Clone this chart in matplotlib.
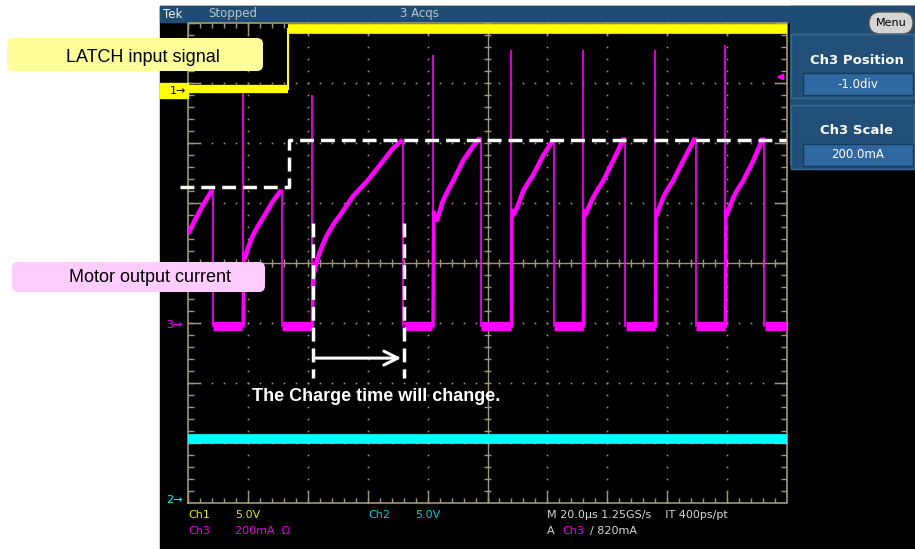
import matplotlib.pyplot as plt
import numpy as np
from matplotlib.patches import FancyBboxPatch, Rectangle

plt.rcParams['font.family'] = ['Liberation Sans', 'DejaVu Sans']

# scope settings
us_per_div = 20.0
ch1_scale, ch1_pos = 5.0, 2.9      # V/div, div
ch2_scale, ch2_pos = 5.0, -3.93    # V/div, div
ch3_scale, ch3_pos = 200.0, -1.0   # mA/div, div
trig_level = 820                   # mA

# Ch1 : LATCH input (V)
ch1_edge = 33.4
ch1_low, ch1_high = 0.0, 5.0
# Ch2 (V)
ch2_level = 5.0

# Ch3 : motor output current (mA), time in us
ch3_low = -10
low_start = [8.3, 31.4, 72.1, 97.8, 122.2, 146.2, 169.5, 192.6]
low_end = [18.1, 41.4, 81.5, 107.8, 131.9, 155.8, 179.3, 200.0]
spike_t = [18.3, 41.5, 81.8, 107.8, 131.9, 156.0, 179.3]
spike_top = [767, 760, 893, 910, 910, 910, 927]
rise_t = [
    [0.0, 2.3, 5.0, 8.0],
    [18.6, 19.0, 20.2, 21.7, 23.3, 25.0, 26.7, 28.4, 31.1],
    [41.7, 41.9, 43.1, 44.7, 46.4, 48.6, 50.8, 55.1, 59.8, 64.1, 68.5, 71.5],
    [82.0, 82.4, 83.1, 84.0, 85.1, 86.8, 88.5, 91.8, 95.2, 97.5],
    [108.2, 108.5, 108.9, 110.2, 111.9, 113.5, 115.2, 118.5, 121.9],
    [132.2, 132.6, 133.2, 134.1, 135.2, 136.9, 138.6, 141.9, 145.6],
    [156.3, 156.6, 156.9, 157.7, 158.6, 160.2, 161.9, 165.3, 169.3],
    [179.6, 179.9, 180.3, 181.1, 182.0, 183.6, 185.3, 188.7, 192.0],
]
rise_i = [
    [297, 343, 393, 443],
    [230, 217, 255, 293, 322, 350, 378, 407, 443],
    [120, 160, 210, 255, 293, 330, 360, 423, 473, 527, 583, 610],
    [370, 355, 343, 370, 407, 442, 473, 540, 590, 617],
    [375, 360, 365, 393, 440, 467, 493, 557, 610],
    [375, 360, 372, 393, 417, 447, 473, 540, 617],
    [375, 360, 372, 393, 417, 447, 473, 540, 617],
    [375, 360, 372, 393, 417, 447, 473, 540, 617],
]

# annotation guides (us, mA)
guide_t = [-2.7, 33.6, 33.6, 199.5]
guide_i = [453, 453, 610, 610]
charge_t = [41.8, 72.1]
charge_i = [333, -183]
arrow_i = -117

YEL = '#ffff00'
CYN = '#00ffff'
MAG = '#ff00ff'
GRAT = '#a09878'
BLUE = '#1f4c72'


def ch3(i):
    return ch3_pos + np.asarray(i, dtype=float) / ch3_scale


fig = plt.figure(figsize=(9.15, 5.49), dpi=100)

# background layer in pixel coordinates
bg = fig.add_axes([0, 0, 1, 1])
bg.set_xlim(0, 915)
bg.set_ylim(549, 0)
bg.axis('off')
bg.add_patch(Rectangle((160, 6), 755, 543, color='black'))
bg.add_patch(Rectangle((160, 6), 755, 16, color=BLUE))
bg.add_patch(Rectangle((790, 6), 125, 159, color=BLUE))

ui = dict(fontsize=8.5, va='center', family='DejaVu Sans')
bg.text(163, 14, 'Tek', color='#f0f0f0', **ui)
bg.text(208, 14, 'Stopped', color='#b8c4d0', **ui)
bg.text(400, 14, '3 Acqs', color='#b8c4d0', **ui)

# right side menu
bg.add_patch(FancyBboxPatch((869, 12), 44, 22, boxstyle='round,pad=0,rounding_size=11',
                            fc='#d4d4d4', ec='#555555', lw=1))
bg.text(891, 23, 'Menu', color='black', fontsize=8, ha='center', va='center', family='DejaVu Sans')
for top, title, val in [(34, 'Ch3 Position', '-1.0div'), (105, 'Ch3 Scale', '200.0mA')]:
    bg.add_patch(Rectangle((791, top), 123, 64, fc='#214f78', ec='#3a6a94', lw=1))
    bg.text(857, top + 26, title, color='white', fontsize=9.5, fontweight='bold',
            ha='center', va='center', family='DejaVu Sans')
    bg.add_patch(Rectangle((803, top + 39), 110, 22, fc='#2f67a0', ec='#153a5c', lw=1))
    bg.text(858, top + 50, val, color='white', fontsize=8.5, ha='center', va='center',
            family='DejaVu Sans')

# channel markers
bg.text(166, 325, '3\u2192', color=MAG, fontsize=8, va='center', family='DejaVu Sans')
bg.text(166, 500, '2\u2192', color=CYN, fontsize=8, va='center', family='DejaVu Sans')

# readout lines
ro = dict(fontsize=8, va='center', family='DejaVu Sans')
bg.text(188, 515, 'Ch1', color='#e6e600', **ro)
bg.text(235, 515, '5.0V', color='#e6e600', **ro)
bg.text(368, 515, 'Ch2', color='#00d0d8', **ro)
bg.text(415, 515, '5.0V', color='#00d0d8', **ro)
bg.text(547, 515, 'M 20.0\u00b5s 1.25GS/s    IT 400ps/pt', color='#d8d8d8', **ro)
bg.text(188, 531, 'Ch3', color='#e600e6', **ro)
bg.text(235, 531, '200mA  \u03a9', color='#e600e6', **ro)
bg.text(547, 531, 'A', color='#d8d8d8', **ro)
bg.text(562, 531, 'Ch3', color='#e600e6', **ro)
bg.text(590, 531, '/ 820mA', color='#d8d8d8', **ro)

# scope graticule axes: x in us, y in divisions
ax = fig.add_axes([188 / 915, (549 - 503) / 549, 599 / 915, 480 / 549])
ax.set_xlim(0, 10 * us_per_div)
ax.set_ylim(-4, 4)
ax.axis('off')

dx = us_per_div / 60.0   # one pixel in us
dy = 1 / 60.0            # one pixel in div
minor_x = np.arange(0, 200.01, us_per_div / 5)
minor_y = np.arange(-4, 4.01, 0.2)
major_x = np.arange(0, 200.01, us_per_div)
major_y = np.arange(-4, 4.01, 1)

# dotted grid
for gx in major_x[1:-1]:
    if gx != 100:
        ax.plot(np.full_like(minor_y, gx), minor_y, ls='none', marker='s', ms=1.2,
                mew=0, color=GRAT)
for gy in major_y[1:-1]:
    if gy != 0:
        ax.plot(minor_x, np.full_like(minor_x, gy), ls='none', marker='s', ms=1.2,
                mew=0, color=GRAT)

# frame and centre cross
ax.plot([0, 200, 200, 0, 0], [-4, -4, 4, 4, -4], color=GRAT, lw=1.2, clip_on=False)
ax.axhline(0, color=GRAT, lw=1)
ax.axvline(100, color=GRAT, lw=1)
ax.vlines(minor_x, -4 * dy, 4 * dy, color=GRAT, lw=1)
ax.hlines(minor_y, 100 - 4 * dx, 100 + 4 * dx, color=GRAT, lw=1)
ax.vlines(minor_x, -4, -4 + 5 * dy, color=GRAT, lw=1)
ax.vlines(minor_x, 4 - 5 * dy, 4, color=GRAT, lw=1)
ax.vlines(major_x, -4, -4 + 12 * dy, color=GRAT, lw=1)
ax.vlines(major_x, 4 - 12 * dy, 4, color=GRAT, lw=1)
ax.hlines(minor_y, 0, 6 * dx, color=GRAT, lw=1)
ax.hlines(minor_y, 200 - 6 * dx, 200, color=GRAT, lw=1)
ax.hlines(major_y, 0, 12 * dx, color=GRAT, lw=1)
ax.hlines(major_y, 200 - 12 * dx, 200, color=GRAT, lw=1)

# Ch2 trace
ax.plot([0, 200], [ch2_pos + ch2_level / ch2_scale] * 2, color=CYN, lw=7,
        solid_capstyle='butt')

# Ch1 trace
y_lo = ch1_pos + ch1_low / ch1_scale
y_hi = ch1_pos + ch1_high / ch1_scale
ax.plot([0, ch1_edge], [y_lo, y_lo], color=YEL, lw=6, solid_capstyle='butt')
ax.plot([ch1_edge, 200], [y_hi, y_hi], color=YEL, lw=7, solid_capstyle='butt', clip_on=False)
ax.plot([ch1_edge, ch1_edge], [y_lo, y_hi], color=YEL, lw=1.5)

# Ch3 trace
ax.hlines([ch3(ch3_low)] * len(low_start), low_start, low_end, color=MAG, lw=6.5)
ax.vlines(spike_t, ch3(ch3_low), ch3(spike_top), color=MAG, lw=1.2)
for t, i in zip(rise_t, rise_i):
    if t[0] > 1:
        ax.plot([t[0] - 0.2, t[0]], [ch3(ch3_low), ch3(i[0])], color=MAG, lw=2.5)
    ax.plot(t, ch3(i), color=MAG, lw=3.3, solid_joinstyle='round', solid_capstyle='butt')
    if t[-1] < 199:
        ax.plot([t[-1] + 0.3] * 2, [ch3(i[-1]), ch3(ch3_low)], color=MAG, lw=1.2)
ax.annotate('', xy=(195.5, ch3(trig_level)), xytext=(199.8, ch3(trig_level)),
            arrowprops=dict(arrowstyle='-|>', color=MAG, lw=1.5, mutation_scale=8))

# annotation overlay
ax.plot(guide_t, ch3(guide_i), color='white', lw=2.5, ls=(0, (4, 2)), clip_on=False)
for ct in charge_t:
    ax.plot([ct, ct], ch3(charge_i), color='white', lw=2.5, ls=(0, (4, 2)))
ax.annotate('', xy=(charge_t[1], ch3(arrow_i)), xytext=(charge_t[0], ch3(arrow_i)),
            arrowprops=dict(arrowstyle='->', color='white', lw=2.2, mutation_scale=25))
ax.text(21.4, -2.22, 'The Charge time will change.', color='white', fontsize=13,
        fontweight='bold', va='center', ha='left')

# top layer: labels and Ch1 marker drawn over the screen
top = fig.add_axes([0, 0, 1, 1])
top.set_xlim(0, 915)
top.set_ylim(549, 0)
top.axis('off')
top.patch.set_alpha(0)
top.add_patch(Rectangle((160, 83), 28, 15, color=YEL))
top.text(170, 91, '1\u2192', color='black', fontsize=8, va='center', family='DejaVu Sans')
top.add_patch(FancyBboxPatch((7, 38), 256, 33, boxstyle='round,pad=0,rounding_size=6',
                             fc='#ffff99', ec='none'))
top.text(143, 57, 'LATCH input signal', fontsize=13, ha='center', va='center')
top.add_patch(FancyBboxPatch((12, 262), 253, 30, boxstyle='round,pad=0,rounding_size=6',
                             fc='#ffccff', ec='none'))
top.text(150, 278, 'Motor output current', fontsize=13, ha='center', va='center')

fig.savefig('out.png', dpi=100, facecolor='white')
